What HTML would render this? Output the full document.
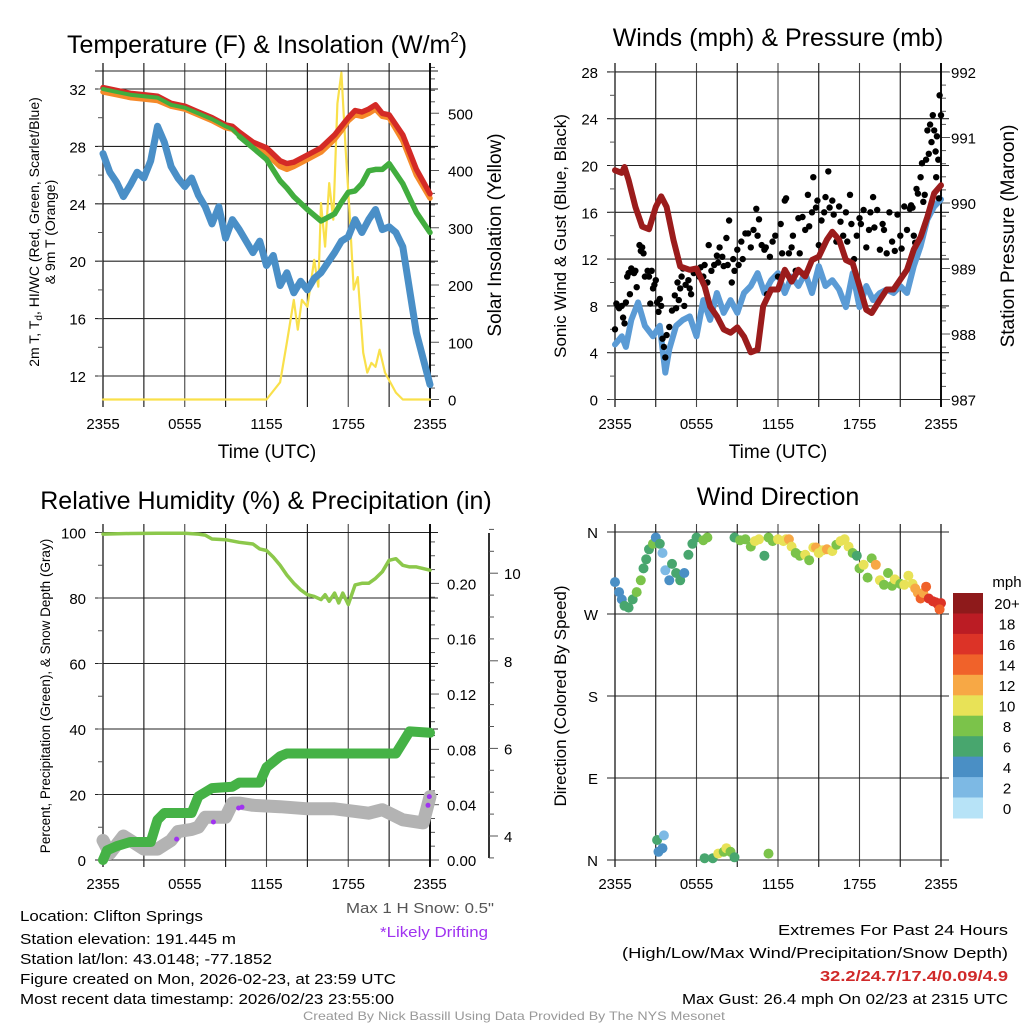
<!DOCTYPE html>
<html><head><meta charset="utf-8">
<style>
html,body{margin:0;padding:0;background:#fff;}
svg{display:block;font-family:"Liberation Sans",Arial,sans-serif;}
</style></head>
<body>
<svg id="chart" width="1024" height="1024" viewBox="0 0 1024 1024" xmlns="http://www.w3.org/2000/svg">
<rect x="0" y="0" width="1024" height="1024" fill="#fff"/>
<g id="grids"></g>
<g id="marks"></g>
<g id="texts">
  <text x="267" y="53" font-size="25" text-anchor="middle">Temperature (F) &amp; Insolation (W/m<tspan font-size="15" dy="-11">2</tspan><tspan dy="11">)</tspan></text>
  <text x="778" y="46" font-size="25" text-anchor="middle">Winds (mph) &amp; Pressure (mb)</text>
  <text x="266" y="509" font-size="25" text-anchor="middle">Relative Humidity (%) &amp; Precipitation (in)</text>
  <text x="778" y="505" font-size="25" text-anchor="middle">Wind Direction</text>

  <text x="267" y="458" font-size="19" text-anchor="middle">Time (UTC)</text>
  <text x="778" y="458" font-size="19" text-anchor="middle">Time (UTC)</text>

  <text transform="translate(39,232) rotate(-90)" font-size="14" text-anchor="middle">2m T, T<tspan font-size="10" dy="3">d</tspan><tspan dy="-3">, HI/WC (Red, Green, Scarlet/Blue)</tspan></text>
  <text transform="translate(55,232) rotate(-90)" font-size="14" text-anchor="middle">&amp; 9m T (Orange)</text>
  <text transform="translate(501,235) rotate(-90)" font-size="19" text-anchor="middle">Solar Insolation (Yellow)</text>
  <text transform="translate(566,236) rotate(-90)" font-size="17" text-anchor="middle">Sonic Wind &amp; Gust (Blue, Black)</text>
  <text transform="translate(1014,236) rotate(-90)" font-size="19" text-anchor="middle">Station Pressure (Maroon)</text>
  <text transform="translate(50,696) rotate(-90)" font-size="13.5" text-anchor="middle">Percent, Precipitation (Green), &amp; Snow Depth (Gray)</text>
  <text transform="translate(566,696) rotate(-90)" font-size="17" text-anchor="middle">Direction (Colored By Speed)</text>

  <text x="494" y="913" font-size="15" fill="#555" text-anchor="end" textLength="148" lengthAdjust="spacingAndGlyphs">Max 1 H Snow: 0.5"</text>
  <text x="488" y="937" font-size="15" fill="#a033f0" text-anchor="end" textLength="108" lengthAdjust="spacingAndGlyphs">*Likely Drifting</text>

  <text x="20" y="921" font-size="15" textLength="183" lengthAdjust="spacingAndGlyphs">Location: Clifton Springs</text>
  <text x="20" y="944" font-size="15" textLength="216" lengthAdjust="spacingAndGlyphs">Station elevation: 191.445 m</text>
  <text x="20" y="964" font-size="15" textLength="252" lengthAdjust="spacingAndGlyphs">Station lat/lon: 43.0148; -77.1852</text>
  <text x="20" y="984" font-size="15" textLength="376" lengthAdjust="spacingAndGlyphs">Figure created on Mon, 2026-02-23, at 23:59 UTC</text>
  <text x="20" y="1004" font-size="15" textLength="374" lengthAdjust="spacingAndGlyphs">Most recent data timestamp: 2026/02/23 23:55:00</text>

  <text x="1008" y="935" font-size="15" text-anchor="end" textLength="230" lengthAdjust="spacingAndGlyphs">Extremes For Past 24 Hours</text>
  <text x="1008" y="958" font-size="15" text-anchor="end" textLength="386" lengthAdjust="spacingAndGlyphs">(High/Low/Max Wind/Precipitation/Snow Depth)</text>
  <text x="1008" y="981" font-size="15" font-weight="bold" fill="#d02a2a" text-anchor="end" textLength="188" lengthAdjust="spacingAndGlyphs">32.2/24.7/17.4/0.09/4.9</text>
  <text x="1008" y="1004" font-size="15" text-anchor="end" textLength="326" lengthAdjust="spacingAndGlyphs">Max Gust: 26.4 mph On 02/23 at 2315 UTC</text>
  <text x="514" y="1020" font-size="12" fill="#999" text-anchor="middle" textLength="422" lengthAdjust="spacingAndGlyphs">Created By Nick Bassill Using Data Provided By The NYS Mesonet</text>

  <text x="1007" y="587" font-size="15" text-anchor="middle">mph</text>
</g>
</svg>
<script>
// ---------- data ----------
const xTickLabels = ["2355","0555","1155","1755","2355"];
const tempTicks = [12,16,20,24,28,32];
const solarTicks = [0,100,200,300,400,500];
const windTicks = [0,4,8,12,16,20,24,28];
const presTicks = [987,988,989,990,991,992];
const rhTicks = [0,20,40,60,80,100];
const precipTicks = ["0.00","0.04","0.08","0.12","0.16","0.20"];
const snowTicks = [4,6,8,10];
const dirLabels = ["N","W","S","E","N"];
const dirTickVals = [360,270,180,90,0];
const cbLabels = ["20+","18","16","14","12","10","8","6","4","2","0"];
const cbColors = ["#8e1a1b","#bb1c24","#dc3327","#f0622a","#f7a845","#e8e257","#7bc34a","#48a66e","#4a8fc5","#7db9e4","#b7e3f7"];

const tHours = [0,1,2,3,4,5,6,7,8,9,9.5,10,11,12,13,13.5,14,15,16,17,17.5,18,18.5,19,19.5,20,20.5,21,22,23,24];
const tempRed = [32.1,31.9,31.7,31.6,31.5,31.0,30.8,30.4,30.0,29.5,29.4,29.0,28.3,27.9,27.0,26.8,26.9,27.4,27.9,28.8,29.4,30.0,30.5,30.4,30.6,30.9,30.3,30.2,28.8,26.4,24.7];
const tempOrange = [31.8,31.6,31.4,31.3,31.2,30.8,30.6,30.2,29.8,29.3,29.2,28.8,28.0,27.5,26.6,26.4,26.6,27.1,27.6,28.5,29.1,29.8,30.2,30.1,30.3,30.6,30.1,30.0,28.4,26.0,24.4];
const tempGreen = [32.0,31.8,31.6,31.5,31.4,30.9,30.7,30.3,29.9,29.4,29.2,28.7,27.9,27.1,25.6,25.1,24.5,23.6,22.8,23.3,24.1,24.8,24.9,25.4,26.3,26.4,26.4,26.8,25.4,23.4,22.0];
const dewHours = [0,0.5,1,1.5,2,2.5,3,3.5,4,4.5,5,5.5,6,6.5,7,7.5,8,8.5,9,9.5,10,10.5,11,11.5,12,12.5,13,13.5,14,14.5,15,15.5,16,16.5,17,17.5,18,18.5,19,19.5,20,20.5,21,21.5,22,22.5,23,23.5,24];
const dewBlue = [27.5,26.2,25.5,24.5,25.3,26.2,25.8,27.0,29.4,28.3,26.6,25.8,25.2,25.8,24.6,23.8,22.6,23.8,21.6,22.9,22.2,21.4,20.6,21.4,19.7,20.4,18.3,19.2,17.8,18.6,18.0,18.8,19.2,19.9,20.6,21.4,21.7,22.9,22.0,22.9,23.6,22.2,22.4,22.0,21.0,18.0,15.0,13.2,11.4];
const solarHours = [0,12,13,13.5,14,14.3,14.6,15,15.5,15.8,16,16.3,16.6,16.9,17.2,17.5,17.8,18.1,18.4,18.7,19.1,19.4,19.7,20,20.3,20.7,21.5,22,24];
const solarVals = [0,0,30,100,174,122,174,162,244,197,343,267,378,314,517,571,441,326,192,214,82,47,64,57,87,47,12,0,0];

const presHours = [0,0.5,0.7,1,1.5,2,2.5,3,3.4,3.8,4.3,4.8,5.5,6,6.6,7,7.5,8,8.5,9,9.5,10,10.5,10.9,11.5,12,12.5,13,13.5,14,14.5,15,15.6,16,16.5,17,17.5,18,18.5,18.9,19.5,20,20.5,21,21.5,22,22.5,23,23.5,24];
const presVals = [990.5,990.46,990.55,990.35,989.94,989.64,989.6,989.94,990.1,989.94,989.44,989.03,988.98,989.0,988.73,988.42,988.27,988.07,988.02,988.1,987.96,987.72,987.76,988.42,988.68,988.68,988.98,988.8,988.98,988.88,989.13,989.18,989.44,989.56,989.44,989.13,989.08,988.73,988.37,988.32,988.52,988.68,988.68,988.83,988.98,989.29,989.48,989.79,990.15,990.27];
const windHours = [0,0.5,0.8,1.2,1.7,2.2,2.8,3.3,3.7,4,4.5,5,5.5,6,6.5,7,7.5,8,8.5,9,9.5,10,10.5,11,11.5,12,12.5,13,13.5,14,14.5,15,15.5,16,16.5,17,17.5,18,18.5,19,19.5,20,20.5,21,21.5,22,22.5,23,23.5,24];
const windVals = [4.7,5.4,4.5,6.8,8.3,6.3,5.4,6.3,2.3,4.3,6.3,6.8,7.1,5.4,8.5,6.8,9.1,7.4,8.5,7.4,9.1,9.7,10.8,9.1,10.2,10.8,9.1,10.5,9.7,10.8,9.1,11.4,9.7,10.2,9.4,7.9,10.8,7.9,9.7,8.5,9.1,9.4,9.1,9.7,9.1,11.4,13.1,15.4,16.5,17.1];
const gustHours = [0,0.1,0.2,0.3,0.5,0.6,0.7,0.8,0.9,1.0,1.1,1.2,1.4,1.5,1.6,1.8,1.9,2.0,2.1,2.2,2.4,2.5,2.6,2.7,2.8,2.9,3.0,3.1,3.2,3.3,3.4,3.5,3.6,3.7,3.8,4.0,4.2,4.4,4.5,4.6,4.7,4.8,4.9,5.0,5.1,5.2,5.4,5.5,5.6,5.8,6.0,6.2,6.3,6.5,6.6,6.8,6.9,7.1,7.3,7.5,7.6,7.7,7.9,8.0,8.2,8.3,8.4,8.6,8.7,8.8,9.0,9.1,9.3,9.4,9.6,9.8,10.0,10.2,10.4,10.5,10.6,10.8,11.0,11.1,11.2,11.4,11.6,11.8,12.0,12.2,12.3,12.5,12.6,12.8,13.0,13.1,13.3,13.5,13.6,13.8,14.0,14.2,14.3,14.5,14.6,14.8,14.9,15.0,15.2,15.4,15.5,15.7,15.8,16.0,16.1,16.3,16.5,16.6,16.8,17.0,17.1,17.3,17.4,17.6,17.8,18.0,18.1,18.3,18.5,18.7,18.8,19.0,19.1,19.3,19.5,19.7,19.8,20.0,20.2,20.4,20.6,20.8,21.0,21.1,21.3,21.5,21.7,21.8,21.9,22.0,22.1,22.2,22.3,22.5,22.6,22.7,22.8,22.9,23.0,23.1,23.2,23.3,23.4,23.5,23.6,23.65,23.7,23.8,23.85,23.9,24.0];
const gustVals = [6,8.2,8.0,7.8,8.0,7.0,6.5,8.3,10.5,10.8,9.0,11.2,10.8,11.0,9.6,13.2,12.7,13.0,12.5,10.5,11.0,10.5,8.2,11.0,9.5,9.8,10.2,8.3,7.5,8.6,8.0,5.2,4.5,3.6,5.5,6.2,7.6,8.9,7.8,10.0,8.5,9.5,10.5,11.2,8.0,9.8,10.2,9.5,9.0,10.8,11.0,10.5,11.3,10.5,11.5,10.0,13.2,11.0,11.5,12.3,11.7,13.0,12.2,11.4,13.8,11.5,15.3,10.0,12.0,11.0,12.8,11.5,13.5,12.0,14.2,14.2,13.0,14.5,16.3,14.0,15.4,13.2,12.8,13.0,9.0,12.2,13.5,14.0,10.5,15.0,12.5,17.0,17.2,12.5,13.0,14.0,11.0,15.5,12.5,15.6,14.5,17.5,14.8,16.0,19.0,16.4,17.0,13.2,15.3,16.0,17.3,19.5,16.4,17.0,15.8,13.5,16.5,15.2,14.0,16.0,13.5,17.5,15.0,12.0,14.0,15.5,15.0,16.2,13.0,14.5,16.0,17.3,14.7,16.2,12.8,15.0,14.5,12.5,16.0,13.5,12.7,15.8,14.0,12.9,16.5,14.5,16.3,16.6,16.4,14.0,13.4,18.0,17.6,19.0,20.2,16.9,17.5,20.5,23.0,21.0,23.5,22.0,24.3,23.0,21.2,19.0,22.5,20.5,17.2,26.0,24.3];

const rhHours = [0,2,4,6,7,7.5,8,9,10,11,11.5,12,12.5,13,13.5,14,14.5,15,15.5,16,16.3,16.6,17,17.3,17.6,18,18.5,19,19.5,20,20.5,21,21.5,22,22.5,23,24];
const rhVals = [99.5,99.7,99.8,99.8,99.5,99.2,98.0,97.8,97.0,96.5,95.0,94.5,92.5,90.0,87.0,84.5,82.5,81.0,80.5,79.5,81.0,79.0,81.5,78.5,81.5,78.0,84.0,84.5,84.5,86.0,88.0,91.5,92.0,90.0,89.5,89.5,88.5];
const prHours = [0,0.3,1,2,3.5,4,4.5,6.5,7,8,9.5,10,11.5,12,13,13.5,21.5,22,22.5,24];
const prVals = [0,0.007,0.010,0.013,0.013,0.029,0.034,0.034,0.046,0.052,0.053,0.056,0.056,0.067,0.075,0.077,0.077,0.085,0.093,0.092];
const snowHours = [0,0.5,1,1.5,2,3,3.5,4,4.5,5,5.5,6.5,7,7.5,9,9.5,10,11,13,15,17,19.5,20.5,22,23.5,24];
const snowVals = [3.9,3.6,3.8,4.0,3.9,3.7,3.7,3.7,3.8,3.9,4.1,4.15,4.2,4.43,4.43,4.75,4.75,4.7,4.67,4.62,4.62,4.52,4.6,4.37,4.3,4.9];
const driftHours = [5.4,8.1,9.95,10.2,23.85,23.95];
const driftVals = [3.93,4.32,4.64,4.66,4.7,4.9];

const dirHours = [0,0.3,0.5,0.7,1,1.3,1.6,1.9,2.1,2.3,2.5,2.8,3.0,3.3,3.5,3.7,4,4.2,4.5,4.8,5.1,5.4,5.7,6.0,6.5,6.8,
 3.1,3.2,3.6,3.5,6.6,7.2,7.6,8.0,8.2,8.5,8.8,11.3,
 8.8,9.2,9.6,10,10.3,10.6,11,11.3,11.6,12,12.4,12.6,12.8,13,13.3,13.6,14,14.3,14.6,14.8,15,15.3,15.6,16,16.3,16.6,16.9,17.2,17.5,17.8,18,18.3,18.6,18.9,19.2,19.5,19.8,20.1,20.4,20.6,21,21.3,21.6,21.9,22.1,22.3,22.5,22.7,22.9,23.1,23.4,23.6,23.8,24,23.9];
const dirVals = [305,294,286,279,277,286,294,307,320,330,341,347,354,347,337,318,307,325,315,307,315,335,347,354,351,354,
 22,9,27,13,2,2,7,9,13,9,3,7,
 354,351,352,344,350,352,334,354,350,352,350,352,352,344,337,334,335,329,343,343,337,340,341,339,346,350,352,344,337,334,320,324,310,331,324,307,302,315,301,308,303,302,312,303,298,293,287,293,300,287,284,283,280,282,275,276];
const dirSpeeds = [4,4,4,6,6,7,8,8,6,6,6,8,4,6,2,2,4,6,6,6,4,6,6,6,8,8,
 6,4,2,4,6,6,10,8,10,8,6,8,
 6,8,8,8,10,10,6,8,8,10,10,10,12,10,8,8,10,8,10,12,10,10,12,10,8,10,10,10,8,6,8,10,8,8,12,10,8,8,8,10,8,10,10,10,12,12,14,12,14,16,16,16,16,16,14];

// ---------- scales ----------
const P1 = {x0:103,x1:430,y0:71,y1:400};
const P2 = {x0:615,x1:941,y0:71,y1:400};
const P3 = {x0:103,x1:430,y0:532,y1:860};
const P4 = {x0:615,x1:941,y0:532,y1:860};
const sx = (P,h)=>P.x0+(P.x1-P.x0)*h/24;
const yTemp = v=>89+(32-v)*14.35;
const ySolar = v=>399.5-v*0.5725;
const yWind = v=>399.5-v*11.7;
const yPres = v=>399.5-(v-987)*65.5;
const yRH = v=>860-v*3.275;
const yPr = v=>860-v*1383;
const ySnow = v=>836-(v-4)*43.8;
const yDir = v=>860-v*328/360;

const NS="http://www.w3.org/2000/svg";
const grids=document.getElementById('grids');
const marks=document.getElementById('marks');
function mk(tag,attrs,parent){const e=document.createElementNS(NS,tag);for(const k in attrs)e.setAttribute(k,attrs[k]);(parent||marks).appendChild(e);return e;}
function line(x1,y1,x2,y2,c,w){return mk('line',{x1,y1,x2,y2,stroke:c||'#000','stroke-width':w||1},grids);}
function txt(x,y,s,anchor,size){const t=mk('text',{x,y,'font-size':size||15,'text-anchor':anchor||'middle'},grids);t.textContent=s;return t;}

function frame(P,name){
  for(let h=0;h<=24;h+=3){
    const x=sx(P,h);
    const l=line(x,P.y0-8,x,P.y1+7,(h%6===0)?'#444':'#111',h%24===0?1.6:1.1);
    
    
  }
  for(let i=0;i<5;i++){
    const t=txt(sx(P,i*6),P.y1+29,xTickLabels[i],'middle',15);
    
    
  }
}
function hgrid(P,y,name){
  const l=line(P.x0-8,y,P.x1+8,y,'#222',1.1);
  
  
}
function tick(x,y,len,name){
  const l=line(x,y,x+len,y,'#555',1);
  
  
}
function path(xs,ys,color,w,name){
  let d='';
  for(let i=0;i<xs.length;i++)d+=(i?'L':'M')+xs[i].toFixed(1)+','+ys[i].toFixed(1);
  const p=mk('path',{d,fill:'none',stroke:color,'stroke-width':w,'stroke-linejoin':'round','stroke-linecap':'round'});
  
  
  return p;
}

// ---------- Panel 1 ----------
frame(P1,'temp');
hgrid(P1,P1.y0,'temp-top');
tempTicks.forEach(v=>{hgrid(P1,yTemp(v),'temp');const t=txt(86,yTemp(v)+6,String(v),'end',15);});
for(let v=12;v<=33;v+=2){tick(P1.x0-5,yTemp(v),5,'temp-minor-tick');}
for(let v=0;v<=580;v+=20){tick(P1.x1,ySolar(v),v%100===0?9:5,'solar-tick');}
solarTicks.forEach(v=>{const t=txt(448,ySolar(v)+6,String(v),'start',15);});
line(P1.x1,P1.y0-8,P1.x1,P1.y1+7,'#000',1.8);
path(solarHours.map(h=>sx(P1,h)),solarVals.map(ySolar),'#f9e04b',2.2,'solar-insolation-line');
path(dewHours.map(h=>sx(P1,h)),dewBlue.map(yTemp),'#4a8fc7',7,'dewpoint-line');
path(tHours.map(h=>sx(P1,h)),tempOrange.map(yTemp),'#f58a2a',5.5,'temp-9m-line');
path(tHours.map(h=>sx(P1,h)),tempRed.map(yTemp),'#d42a26',5.5,'temp-2m-line');
path(tHours.slice(0,12).map(h=>sx(P1,h)),tempGreen.slice(0,12).map(yTemp),'#41ad3e',4,'heat-index-line-early');
path(tHours.slice(11).map(h=>sx(P1,h)),tempGreen.slice(11).map(yTemp),'#41ad3e',5.5,'windchill-line');

// ---------- Panel 2 ----------
frame(P2,'wind');
windTicks.forEach(v=>{hgrid(P2,yWind(v),'wind');const t=txt(598,yWind(v)+6,String(v),'end',15);});
for(let v=0;v<=28;v+=2){tick(P2.x0-5,yWind(v),5,'wind-minor-tick');}
for(let v=987;v<=992.01;v+=0.2){tick(P2.x1,yPres(v),Math.abs(v-Math.round(v))<0.01?9:5,'pressure-tick');}
presTicks.forEach(v=>{const t=txt(951,yPres(v)+6,String(v),'start',15);});
line(P2.x1,P2.y0-8,P2.x1,P2.y1+7,'#000',1.8);
path(windHours.map(h=>sx(P2,h)),windVals.map(yWind),'#5b9bd5',6,'sonic-wind-line');
gustHours.forEach((h,i)=>{
  const c=mk('circle',{cx:sx(P2,h).toFixed(1),cy:yWind(gustVals[i]).toFixed(1),r:3.2,fill:'#000'});
  
  
});
path(presHours.map(h=>sx(P2,h)),presVals.map(yPres),'#9b1c1c',6,'pressure-line');

// ---------- Panel 3 ----------
frame(P3,'rh');
rhTicks.forEach(v=>{hgrid(P3,yRH(v),'rh');const t=txt(86,yRH(v)+6,String(v),'end',15);});
for(let v=0;v<=100;v+=10){tick(P3.x0-5,yRH(v),5,'rh-minor-tick');}
for(let v=0;v<=0.235;v+=0.01){tick(P3.x1,yPr(v),(Math.round(v*100)%4===0)?9:5,'precip-tick');}
precipTicks.forEach(s=>{const t=txt(447,yPr(parseFloat(s))+6,s,'start',15);});
line(P3.x1,P3.y0-8,P3.x1,P3.y1+7,'#000',1.8);
line(489,533,489,858,'#000',1.6);
for(let v=3.5;v<=11.01;v+=0.5){tick(489,ySnow(v),Number.isInteger(v/2)?9:5,'snow-tick');}
snowTicks.forEach(v=>{const t=txt(504,ySnow(v)+6,String(v),'start',15);});
path(snowHours.map(h=>sx(P3,h)),snowVals.map(ySnow),'#b3b3b3',13,'snow-depth-line');
path(prHours.map(h=>sx(P3,h)),prVals.map(yPr),'#45b246',10,'precip-line');
path(rhHours.map(h=>sx(P3,h)),rhVals.map(yRH),'#8cc84b',3.5,'rh-line');
driftHours.forEach((h,i)=>{
  const c=mk('circle',{cx:sx(P3,h).toFixed(1),cy:ySnow(driftVals[i]).toFixed(1),r:2.5,fill:'#a033f0'});
  
  
});

// ---------- Panel 4 ----------
frame(P4,'dir');
dirTickVals.forEach((v,i)=>{hgrid(P4,yDir(v),'dir');const t=txt(598,yDir(v)+6,dirLabels[i],'end',15);});
function speedColor(s){const idx=Math.min(10,Math.floor(s/2));return cbColors[10-idx];}
dirHours.forEach((h,i)=>{
  const c=mk('circle',{cx:sx(P4,h).toFixed(1),cy:yDir(dirVals[i]).toFixed(1),r:5,fill:speedColor(dirSpeeds[i])});
  
  
});
const cbH=(818-593)/cbColors.length;
cbColors.forEach((col,i)=>{
  const r=mk('rect',{x:953,y:(593+i*cbH).toFixed(1),width:30,height:(cbH+0.5).toFixed(1),fill:col});
  
  
  const t=txt(1007,593+i*cbH+cbH/2+6,cbLabels[i],'middle',15);
  
  
});
</script>
</body></html>
